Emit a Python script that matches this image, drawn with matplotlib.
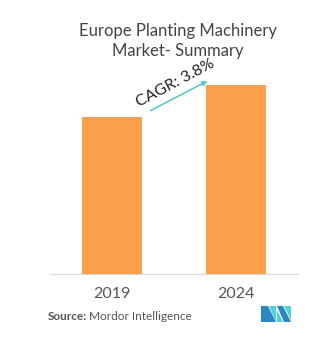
import matplotlib.pyplot as plt
from matplotlib.patches import Polygon

# market size index, 2019 = 1.0, grown at the 3.8% CAGR
years = ["2019", "2024"]
values = [1.0, 1.204]
cagr_label = "CAGR: 3.8%"

plt.rcParams['font.family'] = ['Lato', 'DejaVu Sans']

fig = plt.figure(figsize=(3.32, 3.42), dpi=100)
ax = fig.add_axes([50 / 332, 68 / 342, 248 / 332, 214 / 342])

ax.bar(range(len(years)), values, width=0.476, color="#FBA04A")
ax.set_xlim(-0.5, 1.5)
ax.set_ylim(0, 1.36)

for s in ["top", "left", "right"]:
    ax.spines[s].set_visible(False)
ax.spines["bottom"].set_color("#d9d9d9")
ax.set_yticks([])
ax.set_xticks(range(len(years)))
ax.set_xticklabels(years, fontsize=11.5, color="#555555")
ax.tick_params(axis="x", length=0, pad=9)

# growth arrow between the bars
ax.annotate("", xy=(0.79, 1.235), xytext=(0.29, 1.03),
            arrowprops=dict(arrowstyle="-|>", color="#5BC8D0", lw=1.2,
                            mutation_scale=7))
ax.text(0.51, 1.215, cagr_label, rotation=28, ha="center", va="center",
        fontsize=11.5, color="#222222")

fig.text(0.535, 1 - 41 / 342, "Europe Planting Machinery\nMarket- Summary",
         ha="center", va="center", fontsize=12, color="#444444",
         linespacing=1.35)
fig.text(48 / 332, 1 - 317 / 342, "Source:", fontsize=8.5, fontweight="bold",
         color="#555555", va="center")
fig.text(89 / 332, 1 - 317 / 342, "Mordor Intelligence", fontsize=8.5,
         color="#555555", va="center")

# small logo, bottom right
def fx(x):
    return x / 332

def fy(y):
    return 1 - y / 342

logo = [
    ([(261, 322), (261, 306), (268, 306), (276, 322)], "#2E86C1"),
    ([(269, 306), (276, 306), (276, 322)], "#4FD1D9"),
    ([(277, 306), (283, 306), (291, 322), (284, 322)], "#2E86C1"),
    ([(277, 310), (283, 322), (277, 322)], "#4FD1D9"),
    ([(284, 306), (291, 306), (291, 320)], "#4FD1D9"),
]
for pts, c in logo:
    fig.patches.append(Polygon([(fx(x), fy(y)) for x, y in pts], closed=True,
                               transform=fig.transFigure, color=c, lw=0))

fig.savefig("out.png", dpi=100)
